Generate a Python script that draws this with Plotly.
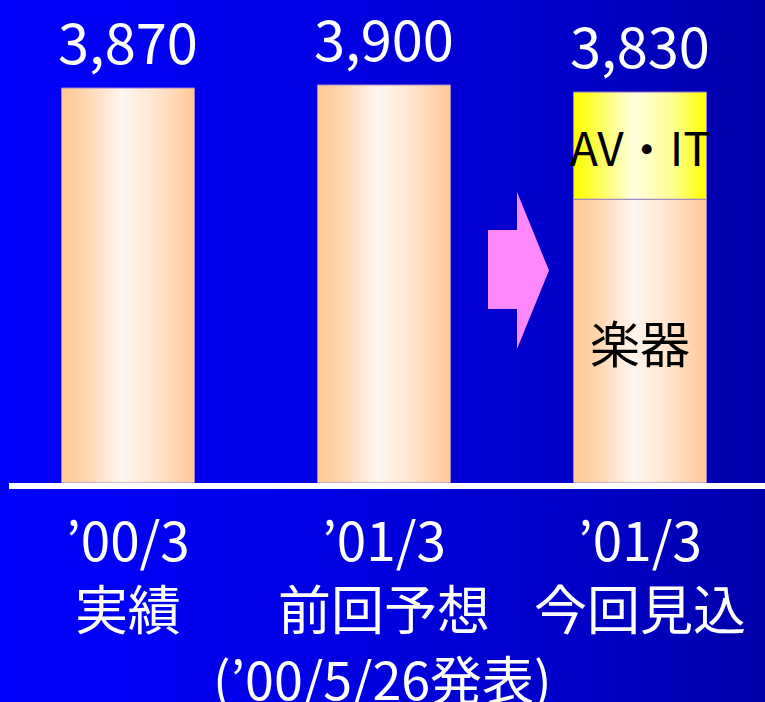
import plotly.graph_objects as go

# ---- data ----
periods = ["’00/3", "’01/3", "’01/3"]
period_notes = ["実績", "前回予想", "今回見込"]
totals = [3870, 3900, 3830]
music = [3870, 3900, 2780]      # 楽器
av_it = [0, 0, 1050]            # AV・IT
segment_names = ["楽器", "AV・IT"]
footnote = "(’00/5/26発表)"

W, H = 765, 702
PX_PER_X = 256.0
X0_PIX = 128.0
ZERO_PIX = 483.0
PX_PER_Y = 395.0 / 3870.0

xr = [(0 - X0_PIX) / PX_PER_X, (W - X0_PIX) / PX_PER_X]
yr = [-(H - ZERO_PIX) / PX_PER_Y, ZERO_PIX / PX_PER_Y]

def px_x(p):
    return (p - X0_PIX) / PX_PER_X

def px_y(p):
    return (ZERO_PIX - p) / PX_PER_Y

BAR_W = 133 / PX_PER_X
FONT = "Noto Sans CJK JP"

peach = [[0, "#FFC896"], [0.15, "#FFD3A8"], [0.45, "#FFF6EF"], [0.75, "#FFE2C8"], [1, "#FFC896"]]
yellow = [[0, "#FFFF00"], [0.15, "#FFFF40"], [0.45, "#FFFFE0"], [0.75, "#FFFF90"], [1, "#FFFF00"]]

fig = go.Figure()

# background gradient
fig.add_trace(go.Scatter(
    x=[xr[0], xr[1], xr[1], xr[0], xr[0]],
    y=[yr[0], yr[0], yr[1], yr[1], yr[0]],
    mode="lines", line=dict(width=0), fill="toself",
    fillgradient=dict(type="horizontal",
                      colorscale=[[0, "#0000FF"], [0.4, "#0000E6"], [0.75, "#0000C8"], [1, "#0000AA"]]),
    hoverinfo="skip", showlegend=False))

def add_rect(i, y0, y1, scale):
    x0, x1 = i - BAR_W / 2, i + BAR_W / 2
    fig.add_trace(go.Scatter(
        x=[x0, x1, x1, x0, x0], y=[y0, y0, y1, y1, y0],
        mode="lines", line=dict(width=1, color="#9C7FC8"), fill="toself",
        fillgradient=dict(type="horizontal", colorscale=scale),
        hoverinfo="skip", showlegend=False))

for i in range(len(periods)):
    add_rect(i, 0, music[i], peach)
    if av_it[i] > 0:
        add_rect(i, music[i], music[i] + av_it[i], yellow)

# arrow
ax0, axh, ax1 = px_x(488), px_x(517), px_x(549)
by0, by1, hy0, hy1 = px_y(230), px_y(309), px_y(192), px_y(349)
hm = (hy0 + hy1) / 2
fig.add_shape(type="path",
              path=f"M {ax0},{by0} L {axh},{by0} L {axh},{hy0} L {ax1},{hm} L {axh},{hy1} L {axh},{by1} L {ax0},{by1} Z",
              xref="x", yref="y", fillcolor="#FF88FF", line=dict(width=0))

# baseline
fig.add_shape(type="rect", xref="x", yref="y", x0=px_x(9), x1=xr[1], y0=px_y(489), y1=0,
              fillcolor="white", line=dict(width=0))

ann = []
for i in range(len(periods)):
    ann.append(dict(x=i, y=totals[i], xref="x", yref="y", text=f"{totals[i]:,}",
                    showarrow=False, yanchor="bottom", yshift=6,
                    font=dict(family=FONT, size=56, color="white")))
    ann.append(dict(x=i, y=1 - 572 / H, xref="x", yref="paper",
                    text=f"{periods[i]}<br>{period_notes[i]}",
                    showarrow=False, yanchor="middle",
                    font=dict(family=FONT, size=53, color="white")))

ann.append(dict(x=1, y=1 - 677 / H, xref="x", yref="paper", text=footnote, xshift=-2,
                showarrow=False, yanchor="middle",
                font=dict(family=FONT, size=52, color="white")))
ann.append(dict(x=2, y=music[2] / 2, xref="x", yref="y", text=segment_names[0],
                showarrow=False, yanchor="middle",
                font=dict(family=FONT, size=50, color="black")))
ann.append(dict(x=2, y=music[2] + av_it[2] / 2, xref="x", yref="y", text=segment_names[1],
                showarrow=False, yanchor="middle",
                font=dict(family=FONT, size=46, color="black")))

fig.update_layout(
    width=W, height=H, margin=dict(l=0, r=0, t=0, b=0),
    paper_bgcolor="#0000D8", plot_bgcolor="#0000D8",
    xaxis=dict(range=xr, visible=False, fixedrange=True),
    yaxis=dict(range=yr, visible=False, fixedrange=True),
    annotations=ann, showlegend=False)

fig.write_html("out.html", config={"displayModeBar": False},
               post_script="document.body.style.margin='0';document.body.style.background='#0000D8';")
